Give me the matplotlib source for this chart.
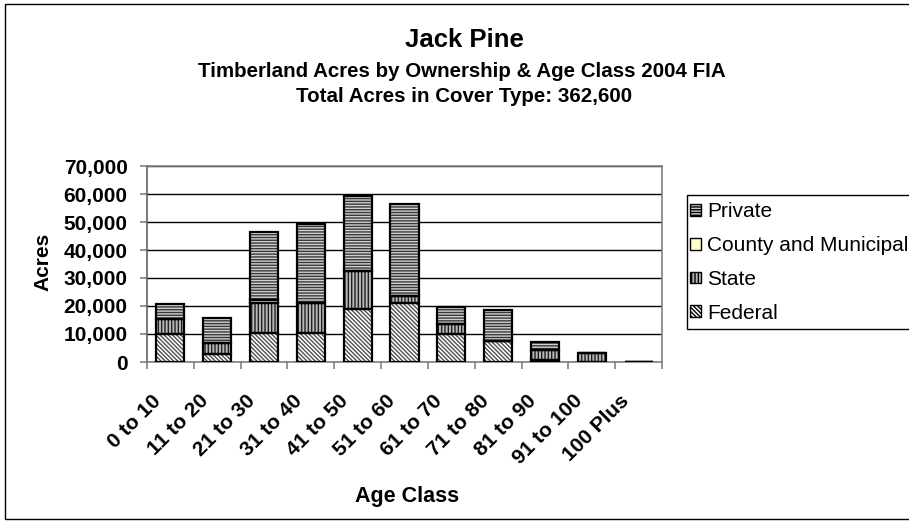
import matplotlib
matplotlib.use("Agg")
import matplotlib.pyplot as plt
from matplotlib.patches import Patch, Rectangle
from matplotlib.ticker import FuncFormatter, MultipleLocator
from matplotlib.transforms import ScaledTranslation

plt.rcParams['font.family'] = ['Liberation Sans', 'DejaVu Sans']
plt.rcParams['hatch.linewidth'] = 1.0

age_classes = ["0 to 10", "11 to 20", "21 to 30", "31 to 40", "41 to 50", "51 to 60",
               "61 to 70", "71 to 80", "81 to 90", "91 to 100", "100 Plus"]
federal = [10000, 3000, 10300, 10400, 18900, 21200, 10000, 7400, 700, 0, 0]
state = [5400, 3700, 10900, 10800, 13700, 2400, 3400, 0, 3600, 3100, 0]
county = [0, 0, 1000, 0, 0, 0, 0, 0, 0, 0, 0]
private = [5400, 8900, 24300, 28100, 26600, 33000, 6400, 11200, 2900, 0, 0]

series = [
    ("Federal", federal, "#ffffff", "\\" * 8, "#505050"),
    ("State", state, "#b8b8b8", "|" * 5, "#202020"),
    ("County and Municipal", county, "#ffffcc", None, "#000000"),
    ("Private", private, "#d0d0d0", "-" * 6, "#383838"),
]

W, H = 909, 523
fig = plt.figure(figsize=(W / 100, H / 100), dpi=100)
fig.patch.set_facecolor("white")

# chart frame
fig.add_artist(Rectangle((5 / W, 4 / H), 930 / W, 515 / H, transform=fig.transFigure,
                         fill=False, edgecolor="black", linewidth=1.0))

ax = fig.add_axes([147 / W, (H - 362) / H, 515 / W, 196 / H])
x = list(range(len(age_classes)))
bottom = [0] * len(age_classes)
handles = {}
for name, vals, fc, hatch, hc in series:
    ax.bar(x, vals, width=0.6, bottom=bottom, color=fc, hatch=hatch,
           edgecolor=hc, linewidth=0, zorder=3)
    ax.bar(x, vals, width=0.6, bottom=bottom, fill=False,
           edgecolor="black", linewidth=1.6, zorder=4)
    handles[name] = Patch(facecolor=fc, hatch=hatch, edgecolor="black", linewidth=1.0)
    bottom = [b + v for b, v in zip(bottom, vals)]

ax.set_xlim(-0.5, len(age_classes) - 0.5)
ax.set_ylim(0, 70000)
ax.yaxis.set_major_locator(MultipleLocator(10000))
ax.yaxis.set_major_formatter(FuncFormatter(lambda v, p: f"{int(v):,}"))
ax.grid(axis="y", color="black", linewidth=1.0, zorder=0)

ax.set_xticks(x)
ax.set_xticklabels(age_classes, rotation=45, ha="right", va="center",
                   rotation_mode="anchor", fontsize=15, fontweight="bold")
ax.tick_params(axis="x", which="major", length=0, pad=0)
shift = ScaledTranslation(-12 / 100, -36 / 100, fig.dpi_scale_trans)
for lab in ax.get_xticklabels():
    lab.set_transform(lab.get_transform() + shift)
ax.set_xticks([i - 0.5 for i in range(len(age_classes) + 1)], minor=True)
ax.tick_params(axis="x", which="minor", length=5, color="#808080", width=1.2)
ax.tick_params(axis="y", length=5, color="#808080", width=1.2, labelsize=15, pad=9)
for lab in ax.get_yticklabels():
    lab.set_fontweight("bold")

for side in ["left", "bottom", "right", "top"]:
    ax.spines[side].set_color("#808080")
    ax.spines[side].set_linewidth(1.2)
ax.spines["left"].set_color("#606060")

fig.text(42.5 / W, 1 - 262 / H, "Acres", ha="center", va="center", rotation=90,
         fontsize=15, fontweight="bold")
fig.text(407 / W, 1 - 502 / H, "Age Class", ha="center", va="baseline",
         fontsize=15.5, fontweight="bold")

fig.text(464 / W, 1 - 47 / H, "Jack Pine", ha="center", va="baseline",
         fontsize=18.5, fontweight="bold")
fig.text(462 / W, 1 - 77 / H, "Timberland Acres by Ownership & Age Class 2004 FIA",
         ha="center", va="baseline", fontsize=14.8, fontweight="bold")
fig.text(464 / W, 1 - 101.5 / H, "Total Acres in Cover Type: 362,600",
         ha="center", va="baseline", fontsize=14.8, fontweight="bold")

# legend box runs past the right edge of the figure
fig.add_artist(Rectangle((687 / W, (H - 329) / H), 300 / W, 134 / H,
                         transform=fig.transFigure, facecolor="white",
                         edgecolor="black", linewidth=1.0, zorder=1))
order = ["Private", "County and Municipal", "State", "Federal"]
leg = fig.legend([handles[n] for n in order], order, loc="upper left",
                 bbox_to_anchor=(683 / W, 1 - 195 / H), frameon=False,
                 fontsize=15, handlelength=0.5, handleheight=0.5,
                 handletextpad=0.3, labelspacing=0.71, borderpad=0.35, borderaxespad=0)
leg.set_zorder(2)

fig.savefig("out.png", dpi=100)
